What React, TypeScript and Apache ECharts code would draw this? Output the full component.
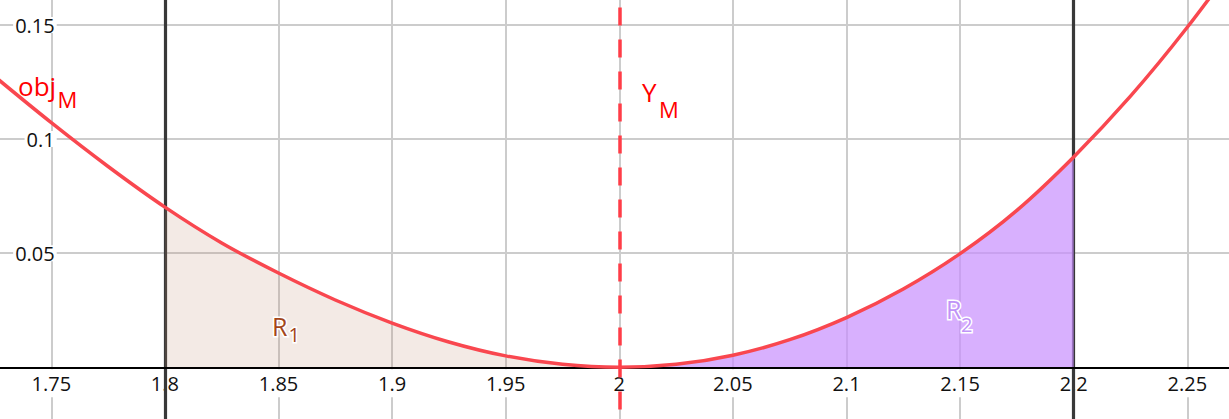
import React, { useEffect, useRef } from 'react';
import * as echarts from 'echarts';

// ---- data ----
const xValues = [1.725, 1.75, 1.775, 1.8, 1.825, 1.85, 1.875, 1.9, 1.925, 1.95, 1.975, 2.0,
  2.025, 2.05, 2.075, 2.1, 2.125, 2.15, 2.175, 2.2, 2.225, 2.25, 2.275];
const objMValues = [0.1275, 0.1072, 0.088, 0.0702, 0.0545, 0.0413, 0.0295, 0.0194, 0.0111, 0.005, 0.0013, 0,
  0.0013, 0.0053, 0.0121, 0.0218, 0.0343, 0.0498, 0.0688, 0.0922, 0.1188, 0.149, 0.1825];
const regionBounds = [1.8, 2.2]; // black vertical lines (R1 starts, R2 ends)
const yMValue = 2; // red dashed line Y_M
const xRange = [1.7, 2.3];
const yRange = [-0.05, 0.2];
const tickStep = 0.05;
const xTickLabels = [1.75, 1.8, 1.85, 1.9, 1.95, 2, 2.05, 2.1, 2.15, 2.2, 2.25];
const yTickLabels = [0.05, 0.1, 0.15];

const FONT = '"Open Sans", "Noto Sans", sans-serif';

export default function App() {
  const ref = useRef<HTMLDivElement>(null);
  useEffect(() => {
    const chart = echarts.init(ref.current!, null, { renderer: 'svg' });
    const curve = xValues.map((x, i) => [x, objMValues[i]]);
    const eps = 1e-9;
    const r1 = curve.filter(([x]) => x >= regionBounds[0] - eps && x <= yMValue + eps);
    const r2 = curve.filter(([x]) => x >= yMValue - eps && x <= regionBounds[1] + eps);

    const grid = { left: -62.3, top: -89.1, width: 1363.2, height: 570.5 };
    // distance (px) from the grid's bottom edge up to y = 0
    const zeroOffset = -((0 - yRange[0]) / (yRange[1] - yRange[0])) * grid.height;

    const baseX = { type: 'value', min: xRange[0], max: xRange[1], interval: tickStep, position: 'bottom' };
    const baseY = { type: 'value', min: yRange[0], max: yRange[1], interval: tickStep, position: 'left' };
    const off = { axisTick: { show: false }, axisLabel: { show: false }, splitLine: { show: false } };

    const smooth = 0.35;
    const text = (t: string, x: number, y: number, size: number, fill: string, stroke?: string) => ({
      type: 'text', x, y, z: 100,
      style: {
        text: t, fill, font: `${size}px ${FONT}`,
        align: 'left', verticalAlign: 'middle', textAlign: 'left', textVerticalAlign: 'middle',
        ...(stroke ? { stroke, lineWidth: 3 } : {}),
      },
    });

    chart.setOption({
      animation: false,
      backgroundColor: '#ffffff',
      grid: { ...grid, containLabel: false, outerBoundsMode: 'none' },
      xAxis: [
        { ...baseX, z: 0, axisLine: { show: false, onZero: false }, axisTick: { show: false }, axisLabel: { show: false },
          splitLine: { show: true, lineStyle: { color: '#cccccc', width: 2 } } },
        { ...baseX, z: 1, ...off, offset: zeroOffset,
          axisLine: { show: false, onZero: false },
          axisLabel: { show: true, customValues: xTickLabels, margin: 2, fontSize: 20, fontFamily: FONT, color: '#111',
            lineHeight: 20, backgroundColor: '#ffffff', padding: [4, 3] } },
        { ...baseX, z: 4, ...off,
          axisLine: { show: true, onZero: true, onZeroAxisIndex: 0, lineStyle: { color: '#000', width: 2 } } },
      ],
      yAxis: [
        { ...baseY, z: 0, axisLine: { show: false, onZero: false }, axisTick: { show: false }, axisLabel: { show: false },
          splitLine: { show: true, lineStyle: { color: '#cccccc', width: 2 } } },
        { ...baseY, z: 1, ...off, axisLine: { show: false, onZero: false },
          axisLabel: { show: true, inside: true, customValues: yTickLabels, align: 'right', margin: 119, fontSize: 20,
            fontFamily: FONT, color: '#111', lineHeight: 16, backgroundColor: '#ffffff', padding: [0, 2] } },
      ],
      series: [
        {
          type: 'line', data: [], z: 2, silent: true,
          markLine: {
            z: 2, silent: true, symbol: ['none', 'none'], label: { show: false },
            lineStyle: { color: '#383838', width: 3.2, type: 'solid' },
            data: regionBounds.map((v) => ({ xAxis: v })),
          },
        },
        {
          name: 'R1', type: 'line', data: r1, smooth, showSymbol: false, z: 3, silent: true,
          lineStyle: { width: 0, opacity: 0 }, areaStyle: { color: 'rgba(190,140,110,0.18)', opacity: 1 },
        },
        {
          name: 'R2', type: 'line', data: r2, smooth, showSymbol: false, z: 3, silent: true,
          lineStyle: { width: 0, opacity: 0 }, areaStyle: { color: 'rgba(199,142,254,0.7)', opacity: 1 },
        },
        {
          name: 'objM', type: 'line', data: curve, smooth, showSymbol: false, z: 5, silent: true,
          lineStyle: { color: '#f9474f', width: 3.5 },
        },
        {
          type: 'line', data: [], z: 6, silent: true,
          markLine: {
            z: 6, silent: true, symbol: ['none', 'none'], label: { show: false },
            lineStyle: { color: '#ff3d47', width: 3.5, type: [18, 14], dashOffset: 23.5 },
            data: [{ xAxis: yMValue }],
          },
        },
      ],
      graphic: [
        text('obj', 18, 85.5, 26, '#ff0000'),
        text('M', 57.5, 99, 22, '#ff0000'),
        text('Y', 642, 91.6, 26, '#ff0000'),
        text('M', 659, 108.5, 22, '#ff0000'),
        text('R', 272, 326.3, 25, '#a3461a', '#ffffff'),
        text('1', 288.5, 334.2, 20, '#a3461a', '#ffffff'),
        text('R', 946, 309.3, 25, '#bf93f7', '#ffffff'),
        text('2', 961, 324.2, 20, '#bf93f7', '#ffffff'),
      ],
    });
    return () => chart.dispose();
  }, []);
  return <div ref={ref} style={{ position: 'fixed', left: 0, top: 0, width: 1229, height: 419 }} />;
}
